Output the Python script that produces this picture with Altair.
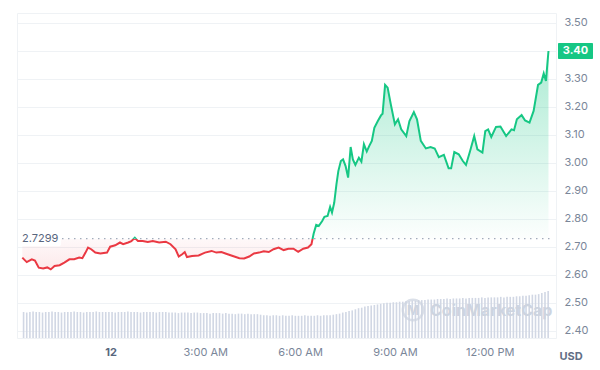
import altair as alt
import pandas as pd

# ---- price series (hours relative to midnight of the 12th) ----
hours = [-2.79,-2.65,-2.49,-2.39,-2.27,-2.13,-2.00,-1.89,-1.77,-1.61,-1.46,-1.30,-1.15,-0.99,-0.89,-0.79,-0.71,-0.61,-0.48,-0.32,-0.11,-0.01,0.15,0.30,0.40,0.56,0.66,0.77,0.87,1.02,1.18,1.34,1.54,1.75,1.90,
         2.06,2.16,2.27,2.35,2.42,2.58,2.79,2.99,3.20,3.35,3.51,3.66,3.87,4.08,4.23,4.39,4.54,4.70,4.85,5.01,5.16,5.32,5.48,5.63,5.79,5.94,6.10,6.25,
         6.36,6.43,6.51,6.59,6.70,6.77,6.87,6.95,7.01,7.08,7.15,7.21,7.29,7.36,7.44,7.52,7.60,7.67,7.75,7.86,7.94,8.02,8.11,8.19,8.27,8.35,8.46,8.56,8.61,8.69,
         8.77,8.87,9.00,9.10,9.20,9.36,9.46,9.60,9.70,9.82,9.98,10.13,10.26,10.39,10.55,10.70,10.78,10.88,11.02,11.15,11.25,11.38,11.51,11.61,11.77,11.86,11.95,12.05,12.20,12.34,12.52,12.69,12.77,12.86,13.01,13.12,13.26,13.39,13.53,13.63,13.71,13.78,13.86]
prices = [2.662,2.646,2.656,2.652,2.626,2.623,2.627,2.620,2.632,2.635,2.644,2.656,2.656,2.662,2.660,2.680,2.698,2.692,2.680,2.677,2.680,2.701,2.706,2.716,2.710,2.716,2.721,2.733,2.721,2.721,2.718,2.721,2.716,2.719,2.710,
          2.692,2.666,2.674,2.682,2.664,2.668,2.670,2.680,2.686,2.680,2.682,2.676,2.668,2.660,2.659,2.666,2.677,2.680,2.685,2.682,2.692,2.698,2.689,2.694,2.694,2.683,2.694,2.698,
          2.710,2.748,2.779,2.775,2.793,2.808,2.811,2.843,2.823,2.858,2.924,2.971,3.007,3.013,2.989,2.948,3.057,3.013,2.993,3.019,3.005,3.067,3.041,3.061,3.079,3.126,3.150,3.170,3.176,3.279,
          3.269,3.210,3.138,3.156,3.120,3.096,3.150,3.182,3.156,3.079,3.052,3.057,3.052,3.021,3.029,2.981,2.981,3.039,3.031,3.007,2.993,3.043,3.096,3.049,3.037,3.114,3.120,3.093,3.129,3.130,3.096,3.120,3.117,3.156,3.171,3.152,3.144,3.186,3.279,3.287,3.320,3.293,3.400]

baseline = 2.7299
last_price = 3.40

# ---- volume bars (one bar every 6 minutes) ----
vol_start = -2.75
vol_step = 0.1
volumes = [48,47,48,49,48,48,47,48,48,49,48,48,47,48,48,48,49,48,48,47,48,48,48,49,48,48,48,
           48,48,47,48,48,48,49,48,48,48,47,48,48,48,48,47,48,48,48,47,
           47,47,46,47,47,47,46,47,47,46,
           46,46,45,46,46,46,45,46,
           45,45,44,45,45,44,45,44,44,44,43,
           42,42,41,42,42,41,42,41,41,42,41,41,41,42,41,41,41,42,41,42,42,42,
           43,44,45,47,48,50,51,53,55,56,58,59,60,61,62,63,64,
           65,65,66,66,67,67,68,68,69,69,70,70,70,71,71,71,
           72,72,72,73,72,73,73,73,74,73,74,74,74,74,75,74,75,75,75,75,76,75,76,76,76,
           77,77,78,78,79,80,80,81,83,85,87]
vol_times = [round(vol_start + vol_step * i, 2) for i in range(len(volumes))]

# ---- axes ----
x_ticks = [0, 3, 6, 9, 12]
x_labels = ["12", "3:00 AM", "6:00 AM", "9:00 AM", "12:00 PM"]
y_ticks = [2.4, 2.5, 2.6, 2.7, 2.8, 2.9, 3.0, 3.1, 3.2, 3.3, 3.4, 3.5]

W, H = 539, 325
x_domain = [-2.80, 13.94]
y_domain = [2.375, 3.5357]

GREEN = "#16c784"
RED = "#ea3943"
FONT = "Inter"

price_df = pd.DataFrame({"t": hours, "p": prices})
vol_df = pd.DataFrame({"t": vol_times, "v": volumes})
one = pd.DataFrame({"k": [0]})

label_expr = " : ".join(
    f"datum.value == {v} ? '{l}'" for v, l in zip(x_ticks, x_labels)
) + " : ''"

x_axis = alt.Axis(values=x_ticks, labelExpr=label_expr, grid=False, domain=False,
                  ticks=False, labelPadding=8, labelFontSize=11, labelFont=FONT,
                  labelOverlap=False,
                  labelColor={"condition": {"test": "datum.value == 0", "value": "#58667e"}, "value": "#7a8699"},
                  labelFontWeight={"condition": {"test": "datum.value == 0", "value": "bold"}, "value": "normal"},
                  title=None)
x_scale = alt.Scale(domain=x_domain, nice=False, zero=False)
x_enc = alt.X("t:Q", scale=x_scale, axis=x_axis)

y_scale = alt.Scale(domain=y_domain, nice=False, zero=False)
y_axis = alt.Axis(orient="right", values=y_ticks,
                  labelExpr="abs(datum.value - 3.4) < 0.001 ? '' : format(datum.value, '.2f')",
                  grid=True, gridColor="#eff2f5", domain=False, ticks=False, labelPadding=8,
                  labelOverlap=False, labelBound=False,
                  labelFontSize=11, labelFont=FONT, labelColor="#7a8699", title=None)
y_enc = alt.Y("p:Q", scale=y_scale, axis=y_axis)


def y_at(v):
    return alt.Y(datum=v, type="quantitative", scale=y_scale, axis=y_axis)


pmin, pmax = min(prices), max(prices)
off = (pmax - baseline) / (pmax - pmin)

line_grad = alt.Gradient(gradient="linear", x1=0, x2=0, y1=0, y2=1, stops=[
    alt.GradientStop(color=GREEN, offset=0),
    alt.GradientStop(color=GREEN, offset=off),
    alt.GradientStop(color=RED, offset=off),
    alt.GradientStop(color=RED, offset=1),
])
fill_grad = alt.Gradient(gradient="linear", x1=0, x2=0, y1=0, y2=1, stops=[
    alt.GradientStop(color="rgba(22,199,132,0.36)", offset=0),
    alt.GradientStop(color="rgba(22,199,132,0.01)", offset=off),
    alt.GradientStop(color="rgba(234,57,67,0.03)", offset=off),
    alt.GradientStop(color="rgba(234,57,67,0.11)", offset=1),
])

vol = alt.Chart(vol_df).mark_bar(size=1.6, color="#d1d7e4").encode(
    x=x_enc,
    y=alt.Y("v:Q", scale=alt.Scale(domain=[0, 600]), axis=None),
)

area = alt.Chart(price_df).mark_area(fill=fill_grad, interpolate="linear").encode(
    x=x_enc, y=y_enc, y2=alt.datum(baseline),
)
line = alt.Chart(price_df).mark_line(stroke=line_grad, strokeWidth=2, interpolate="linear").encode(
    x=x_enc, y=y_enc,
)
base_rule = alt.Chart(one).mark_rule(color="#a3acbb", strokeDash=[1.5, 4.5], strokeWidth=1.2).encode(
    x=alt.value(45), x2=alt.value(W - 2),
    y=y_at(baseline),
)
base_box = alt.Chart(one).mark_rect(color="white", cornerRadius=2).encode(
    x=alt.value(1), x2=alt.value(44),
    y=y_at(baseline + 0.027), y2=alt.datum(baseline - 0.027),
)
base_text = alt.Chart(one).mark_text(align="left", baseline="middle", fontSize=11, font=FONT,
                                     color="#58667e").encode(
    x=alt.value(5), y=y_at(baseline), text=alt.value(f"{baseline:.4f}"),
)
last_box = alt.Chart(one).mark_rect(color=GREEN, cornerRadius=1).encode(
    x=alt.value(W + 2), x2=alt.value(W + 37),
    y=y_at(last_price + 0.029), y2=alt.datum(last_price - 0.029),
)
last_text = alt.Chart(one).mark_text(align="center", baseline="middle", fontSize=11, font=FONT,
                                     fontWeight="bold", color="white").encode(
    x=alt.value(W + 19.5), y=y_at(last_price), text=alt.value(f"{last_price:.2f}"),
)
logo = alt.Chart(one).mark_point(shape="circle", filled=False, size=420, strokeWidth=2.4,
                                 color="#cdd4e0").encode(
    x=alt.value(396), y=alt.value(297),
)
logo_m = alt.Chart(one).mark_text(fontSize=13, fontWeight="bold", font=FONT, color="#cdd4e0").encode(
    x=alt.value(396), y=alt.value(298), text=alt.value("M"),
)
water = alt.Chart(one).mark_text(align="left", baseline="middle", fontSize=16, font=FONT,
                                 fontWeight="bold", color="#cdd4e0").encode(
    x=alt.value(413), y=alt.value(298), text=alt.value("CoinMarketCap"),
)
usd = alt.Chart(one).mark_text(align="center", baseline="middle", fontSize=11, font=FONT,
                               fontWeight="bold", color="#616e85").encode(
    x=alt.value(W + 15), y=alt.value(H + 19), text=alt.value("USD"),
)

price_layer = alt.layer(area, line, base_rule, base_box, base_text, last_box, last_text,
                        logo, logo_m, water, usd)

chart = alt.layer(vol, price_layer).resolve_scale(y="independent").properties(
    width=W, height=H,
    autosize=alt.AutoSizeParams(type="none"),
    padding={"left": 17, "top": 13, "right": 44, "bottom": 32},
    background="white",
).configure_view(stroke="#eff2f5", strokeWidth=1)

chart.save("out.html", embed_options={"renderer": "svg", "actions": False})
